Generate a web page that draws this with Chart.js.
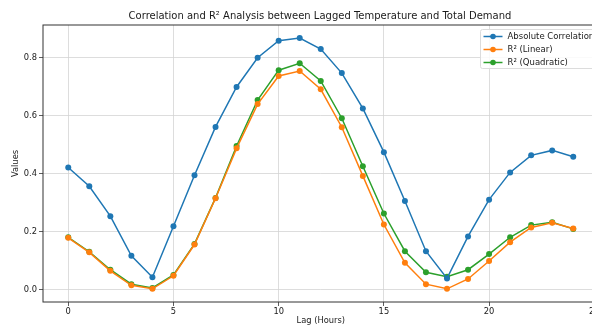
<!DOCTYPE html>
<html>
<head>
<meta charset="utf-8">
<script src="https://cdn.jsdelivr.net/npm/chart.js@4.4.1/dist/chart.umd.min.js"></script>
<style>
  html, body { margin: 0; padding: 0; background: #fff; overflow: hidden; }
  #wrap { width: 640px; height: 327px; position: relative; }
</style>
</head>
<body>
<div id="wrap"><canvas id="chart"></canvas></div>
<script>
// lag hours 0..24
const lags = [0, 1, 2, 3, 4, 5, 6, 7, 8, 9, 10, 11, 12, 13, 14, 15, 16, 17, 18, 19, 20, 21, 22, 23, 24];

const absCorr = [0.421, 0.356, 0.253, 0.116, 0.042, 0.218, 0.394, 0.561, 0.699, 0.800, 0.859, 0.868, 0.830,
  0.747, 0.625, 0.474, 0.305, 0.132, 0.038, 0.183, 0.310, 0.404, 0.463, 0.480, 0.458];

const r2Linear = [0.178, 0.128, 0.064, 0.014, 0.002, 0.047, 0.155, 0.315, 0.487, 0.640, 0.737, 0.754, 0.691,
  0.560, 0.392, 0.224, 0.092, 0.018, 0.002, 0.036, 0.098, 0.163, 0.214, 0.230, 0.210];

const r2Quad = [0.180, 0.130, 0.068, 0.018, 0.005, 0.050, 0.157, 0.316, 0.495, 0.654, 0.757, 0.781, 0.720,
  0.591, 0.425, 0.262, 0.132, 0.059, 0.044, 0.068, 0.122, 0.180, 0.222, 0.232, 0.209];

const xTicks = [0, 5, 10, 15, 20, 25];
const yTicks = [0.0, 0.2, 0.4, 0.6, 0.8];

const chartTitle = "Correlation and R\u00b2 Analysis between Lagged Temperature and Total Demand";

const FONT = "'DejaVu Sans', sans-serif";
const TEXT = "#1a1a1a";

function series(label, values, color) {
  return {
    label: label,
    data: lags.map((x, i) => ({ x: x, y: values[i] })),
    borderColor: color,
    backgroundColor: color,
    borderWidth: 1.5,
    pointRadius: 3,
    pointHoverRadius: 3,
    pointBorderWidth: 0,
    tension: 0
  };
}

// frame round the plot (matplotlib spines) + title centred on the figure
const framePlugin = {
  id: "frame",
  afterDraw(chart) {
    const a = chart.chartArea;
    const ctx = chart.ctx;
    ctx.save();
    ctx.strokeStyle = "#333";
    ctx.lineWidth = 1;
    ctx.strokeRect(a.left, a.top, a.right - a.left, a.bottom - a.top);
    ctx.font = "10px " + FONT;
    ctx.fillStyle = TEXT;
    ctx.textAlign = "center";
    ctx.textBaseline = "middle";
    ctx.fillText(chartTitle, chart.width / 2, a.top - 8.5);
    ctx.restore();
  }
};

// matplotlib-like legend box, upper right
const legendBox = {
  id: "legendBox",
  afterDraw(chart) {
    const a = chart.chartArea;
    const ctx = chart.ctx;
    ctx.save();
    ctx.font = "8.5px " + FONT;
    const sets = chart.data.datasets;
    const textW = Math.max(...sets.map(d => ctx.measureText(d.label).width));
    const rowH = 13;
    const w = 4 + 20 + 5 + textW + 5;
    const h = 39;
    const x = a.right - 118;
    const y = a.top + 4.5;
    ctx.fillStyle = "rgba(255,255,255,0.85)";
    ctx.strokeStyle = "#dcdcdc";
    ctx.lineWidth = 1;
    ctx.beginPath();
    ctx.roundRect(x, y, w, h, 2);
    ctx.fill();
    ctx.stroke();
    sets.forEach((d, i) => {
      const cy = y + 7 + i * rowH;
      ctx.strokeStyle = d.borderColor;
      ctx.lineWidth = 1.5;
      ctx.beginPath();
      ctx.moveTo(x + 3, cy);
      ctx.lineTo(x + 22, cy);
      ctx.stroke();
      ctx.fillStyle = d.borderColor;
      ctx.beginPath();
      ctx.arc(x + 12.5, cy, 2.8, 0, Math.PI * 2);
      ctx.fill();
      ctx.fillStyle = TEXT;
      ctx.textBaseline = "middle";
      ctx.fillText(d.label, x + 27, cy + 0.5);
    });
    ctx.restore();
  }
};

const canvas = document.getElementById("chart");
const ctx = canvas.getContext("2d");

new Chart(ctx, {
  type: "line",
  data: {
    datasets: [
      series("Absolute Correlation", absCorr, "#1f77b4"),
      series("R\u00b2 (Linear)", r2Linear, "#ff7f0e"),
      series("R\u00b2 (Quadratic)", r2Quad, "#2ca02c")
    ]
  },
  options: {
    responsive: true,
    maintainAspectRatio: false,
    animation: false,
    events: [],
    layout: { padding: { left: 0, right: 41.5, top: 25, bottom: 0 } },
    plugins: {
      legend: { display: false },
      tooltip: { enabled: false },
      title: { display: false }
    },
    scales: {
      x: {
        type: "linear",
        min: -1.2,
        max: 25.2,
        afterFit(scale) { scale.height = 25; },
        afterBuildTicks(scale) { scale.ticks = xTicks.map(v => ({ value: v })); },
        ticks: {
          color: TEXT,
          font: { family: FONT, size: 8.3 },
          padding: 1,
          maxRotation: 0,
          autoSkip: false,
          includeBounds: false
        },
        grid: { color: "#d4d4d4", lineWidth: 0.8, tickLength: 4, tickColor: "#333", drawOnChartArea: true },
        border: { display: false },
        title: {
          display: true,
          text: "Lag (Hours)",
          color: TEXT,
          font: { family: FONT, size: 8.3 },
          padding: { top: 0, bottom: 1 }
        }
      },
      y: {
        type: "linear",
        min: -0.0435,
        max: 0.913,
        afterFit(scale) { scale.width = 43; },
        afterBuildTicks(scale) { scale.ticks = yTicks.map(v => ({ value: v })); },
        ticks: {
          color: TEXT,
          font: { family: FONT, size: 8.3 },
          padding: 2,
          includeBounds: false,
          callback: v => Number(v).toFixed(1)
        },
        grid: { color: "#d4d4d4", lineWidth: 0.8, tickLength: 4, tickColor: "#333" },
        border: { display: false },
        title: {
          display: true,
          text: "Values",
          color: TEXT,
          font: { family: FONT, size: 8.3 },
          padding: { top: 11, bottom: 0 }
        }
      }
    }
  },
  plugins: [framePlugin, legendBox]
});
</script>
</body>
</html>
